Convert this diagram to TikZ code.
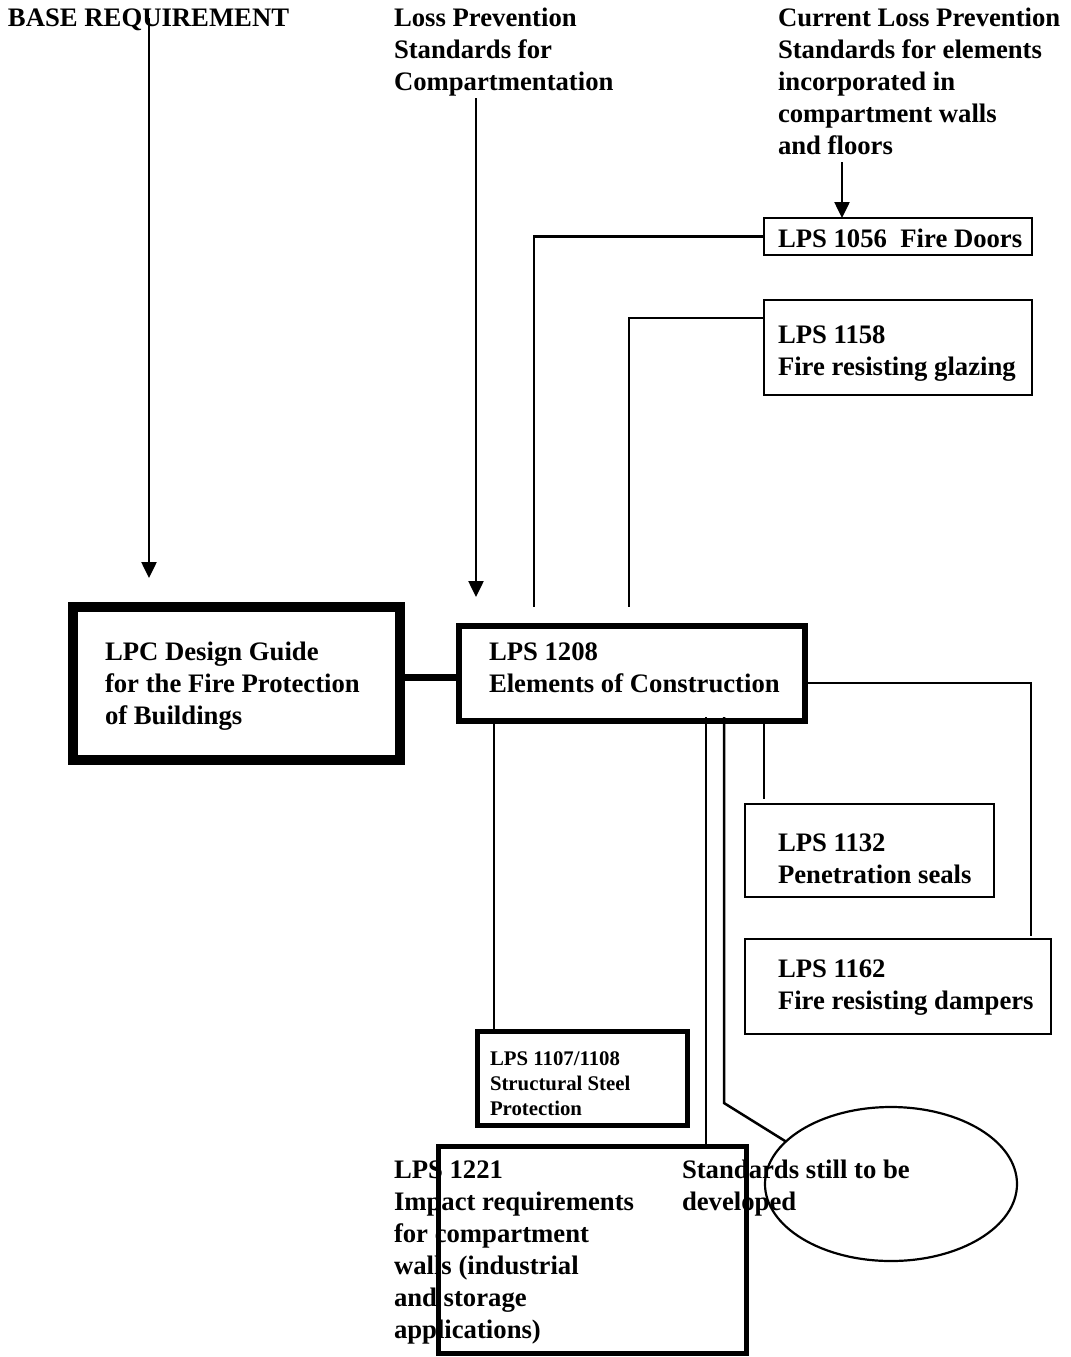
\documentclass[tikz,border=0pt]{standalone}
\usepackage{fontspec}
\setmainfont{Liberation Serif}
\usetikzlibrary{arrows.meta,shapes.geometric}
\newcommand{\tl}[1]{\begin{tabular}[t]{@{}l@{}}#1\end{tabular}}
\tikzset{
  thin line/.style={line width=1.25pt},
  arr/.style={thin line,-{Triangle[length=8pt,width=7.5pt]}},
  boxnode/.style={draw,rectangle,inner sep=0pt,outer sep=0pt},
  txt/.style={inner sep=0pt,outer sep=0pt,anchor=base west,font=\fontsize{13.35}{16}\selectfont\bfseries},
  smalltxt/.style={inner sep=0pt,outer sep=0pt,anchor=base west,font=\fontsize{10.4}{12.5}\selectfont\bfseries}
}
\begin{document}
\begin{tikzpicture}[x=0.5pt,y=-0.5pt]
\useasboundingbox (0,0) rectangle (1071,1357);
% text
\node[txt] (tbase) at (8,26) {BASE REQUIREMENT};
\node[txt] (tloss) at (394,26) {\tl{Loss Prevention\\Standards for\\Compartmentation}};
\node[txt] (tcur) at (778,26) {\tl{Current Loss Prevention\\Standards for elements\\incorporated in\\compartment walls\\and floors}};
\node[txt] (t1056) at (778,247) {LPS 1056~ Fire Doors};
\node[txt] (t1158) at (778,343) {\tl{LPS 1158\\Fire resisting glazing}};
\node[txt] (tlpc) at (105,660) {\tl{LPC Design Guide\\for the Fire Protection\\of Buildings}};
\node[txt] (t1208) at (489,660) {\tl{LPS 1208\\Elements of Construction}};
\node[txt] (t1132) at (778,851) {\tl{LPS 1132\\Penetration seals}};
\node[txt] (t1162) at (778,977) {\tl{LPS 1162\\Fire resisting dampers}};
\node[smalltxt] (t1107) at (490,1065) {\tl{LPS 1107/1108\\Structural Steel\\Protection}};
\node[txt] (t1221) at (394,1178) {\tl{LPS 1221\\Impact requirements\\for compartment\\walls (industrial\\and storage\\applications)}};
\node[txt] (tstd) at (682,1178) {\tl{Standards still to be\\developed}};
% boxes
\node[boxnode,line width=5pt,minimum width=163.5pt,minimum height=76.5pt] (lpc) at (236.5,683.5) {};
\node[boxnode,line width=3pt,minimum width=173pt,minimum height=47.5pt] (b1208) at (632,673.5) {};
\node[boxnode,line width=1.25pt,minimum width=134pt,minimum height=18.5pt] (b1056) at (898,236.5) {};
\node[boxnode,line width=1.25pt,minimum width=134pt,minimum height=47.5pt] (b1158) at (898,347.5) {};
\node[boxnode,line width=1.1pt,minimum width=124.5pt,minimum height=46.5pt] (b1132) at (869.5,850.5) {};
\node[boxnode,line width=1.1pt,minimum width=153pt,minimum height=47.5pt] (b1162) at (898,986.5) {};
\node[boxnode,line width=2.5pt,minimum width=105pt,minimum height=47pt] (b1107) at (582,1078) {};
\node[boxnode,line width=2.5pt,minimum width=154pt,minimum height=103.5pt] (b1221) at (592,1249.5) {};
\node[draw,ellipse,line width=1.1pt,inner sep=0pt,outer sep=0pt,minimum width=126pt,minimum height=77pt] (ell) at (891,1184) {};
% coordinates
\coordinate (a1s) at (149,18);
\coordinate (a1e) at (149,578);
\coordinate (a2s) at (476,98);
\coordinate (a2e) at (476,597);
\coordinate (a3s) at (842,162);
\coordinate (e1056) at (534,607);
\coordinate (e1158) at (629,607);
\coordinate (s1132) at (764,722);
\coordinate (e1132) at (764,799);
\coordinate (s1107) at (494,722);
\coordinate (s1221) at (706,717);
\coordinate (s1221b) at (706,1144);
\coordinate (sell) at (724,717);
\coordinate (kell) at (724,1103);
\coordinate (e1162) at (1031,936);
% connectors
\draw[arr] (a1s) -- (a1e);
\draw[arr] (a2s) -- (a2e);
\draw[arr] (a3s) -- (a3s |- b1056.north);
\draw[thin line] (b1056.west) -- (e1056 |- b1056.west) -- (e1056);
\draw[thin line] (b1158.west |- 0,318) -- (e1158 |- 0,318) -- (e1158);
\draw[line width=3.5pt] (lpc.east |- 0,677) -- (b1208.west |- 0,677);
\draw[thin line] (b1208.east |- 0,683) -- (e1162 |- 0,683) -- (e1162);
\draw[thin line] (s1132) -- (e1132);
\draw[thin line] (s1107) -- (s1107 |- b1107.north);
\draw[thin line] (s1221) -- (s1221b);
\draw[thin line] (sell) -- (kell) -- (ell.158);
\end{tikzpicture}
\end{document}
